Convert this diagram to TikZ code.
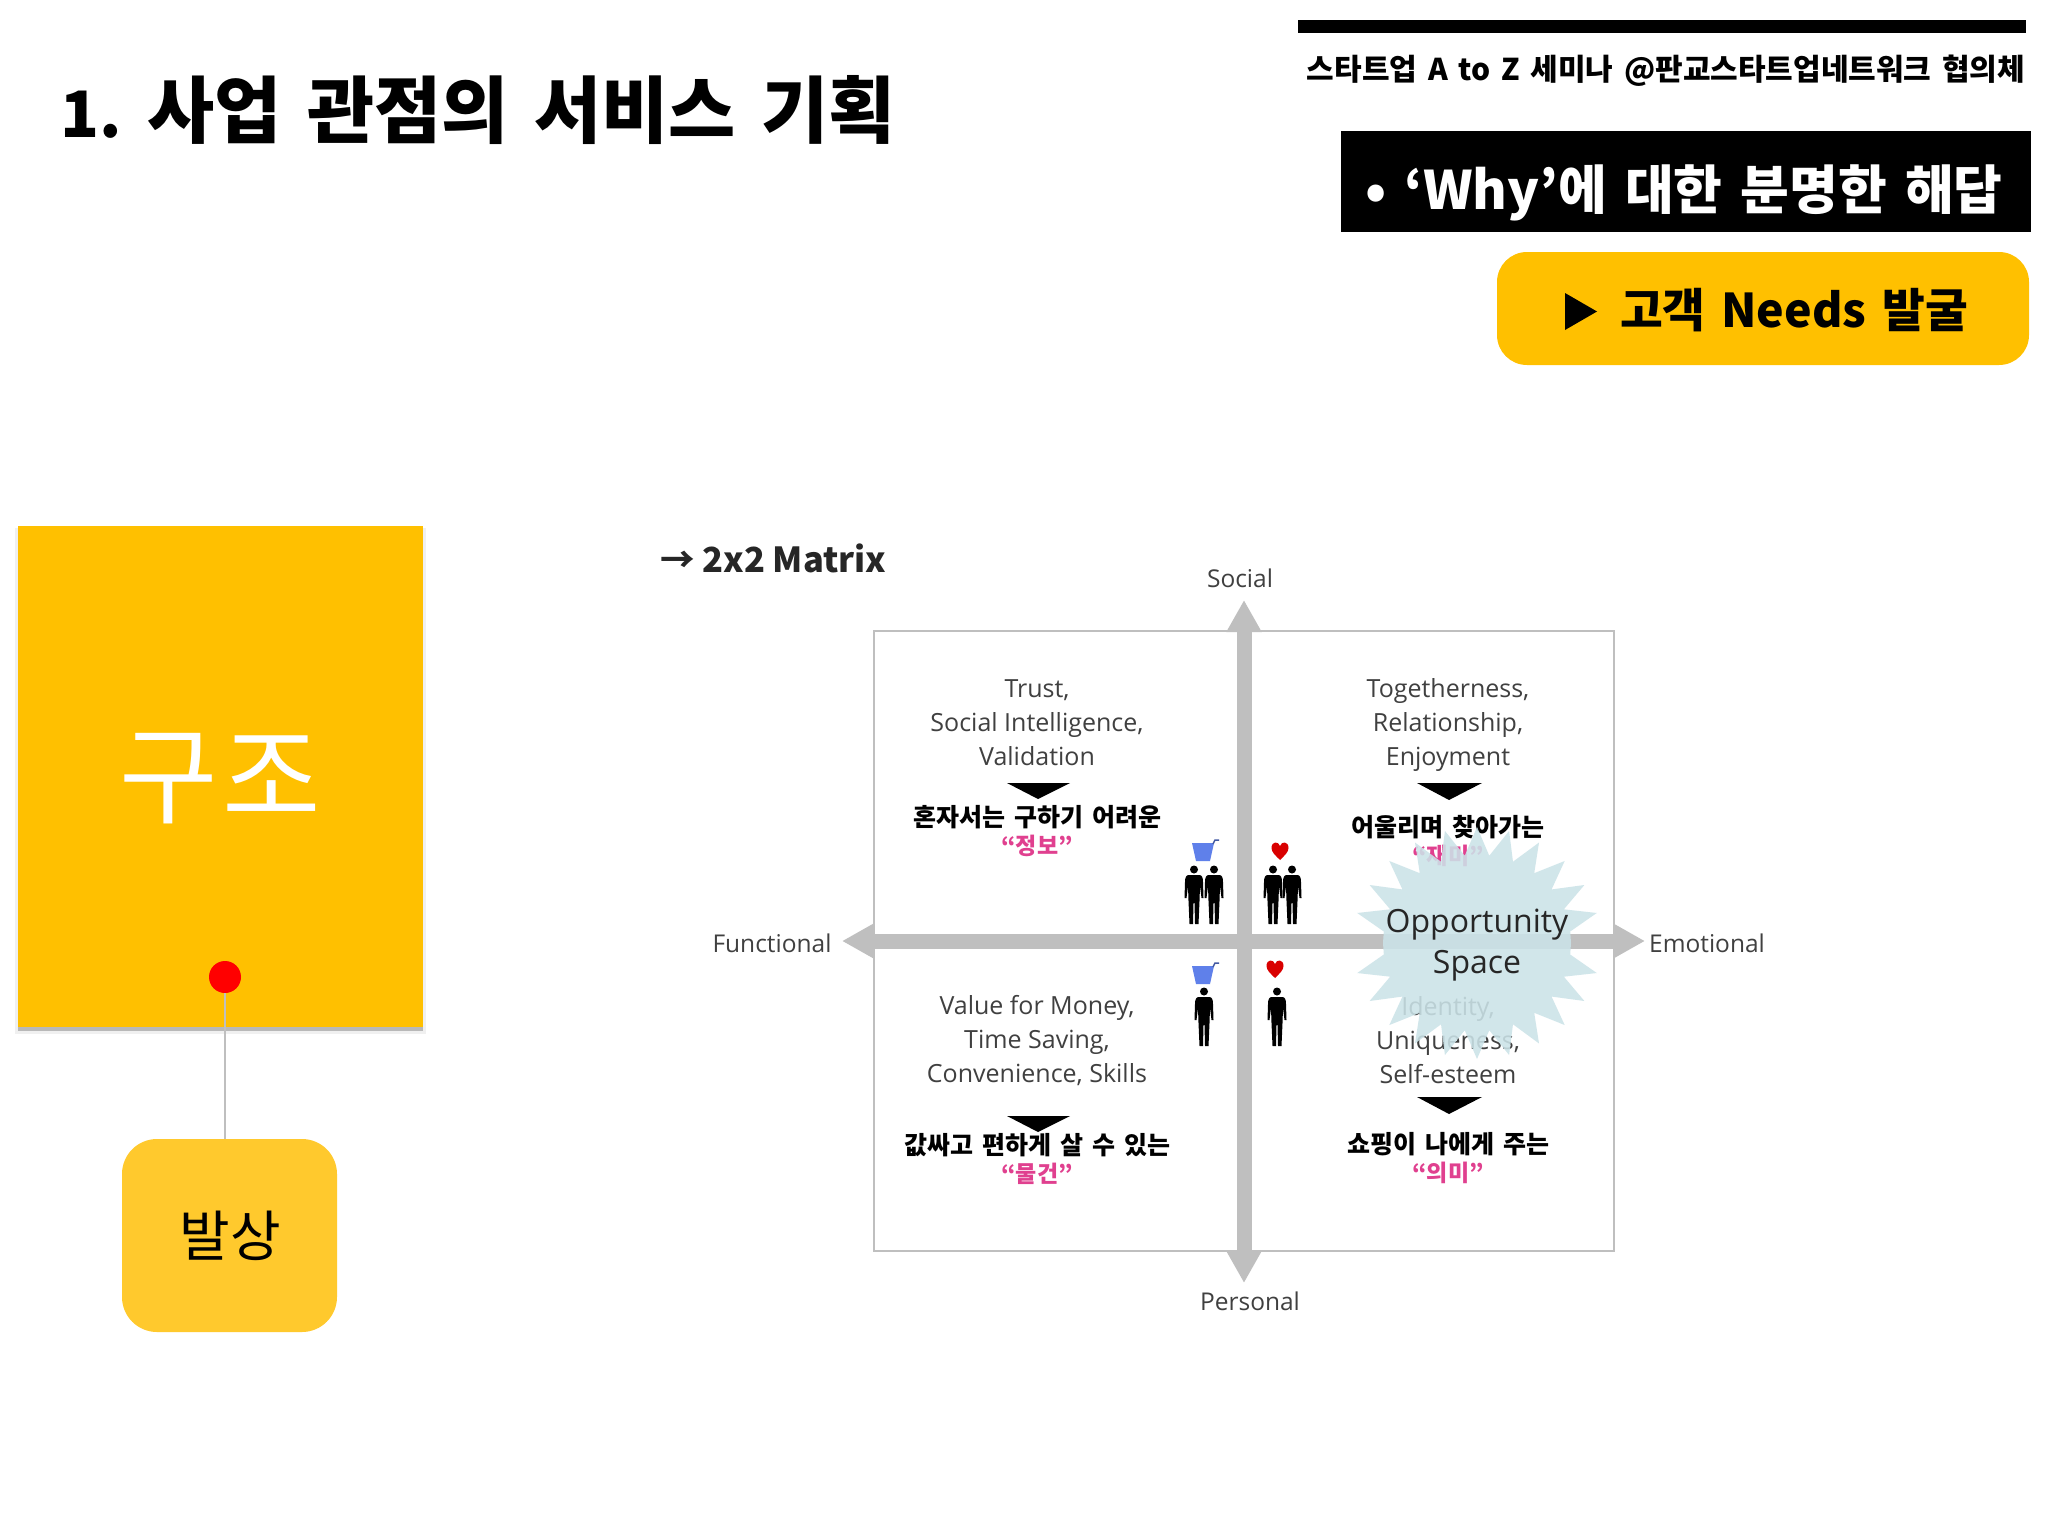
\documentclass[tikz,border=0pt]{standalone}
\usepackage{fontspec}
\setmainfont{Noto Sans CJK KR}
\newfontfamily\latinf{Open Sans}
\newcommand{\wgap}[1]{\spaceskip=#1em\relax}
\usetikzlibrary{arrows.meta,shapes.geometric}
\definecolor{amber}{HTML}{FFC000}
\definecolor{amberlt}{HTML}{FFC92D}
\definecolor{axisgray}{HTML}{BFBFBF}
\definecolor{inkgray}{HTML}{404040}
\definecolor{pinkish}{HTML}{E0408F}
\definecolor{burst}{HTML}{CBE3E8}
\definecolor{cartblue}{HTML}{5F80EA}
\tikzset{
  x=1pt,y=-1pt,
  every node/.style={inner sep=0pt,outer sep=0pt},
  eng/.style={font=\latinf\fontsize{25}{34}\selectfont,text=inkgray,align=center,anchor=center},
  axlabel/.style={font=\latinf\fontsize{24.5}{30}\selectfont,text=inkgray,anchor=center},
  kor/.style={font=\bfseries\fontsize{25}{30}\selectfont\wgap{0.36},text=black,anchor=center},
  pinktxt/.style={font=\bfseries\fontsize{23}{28}\selectfont,text=pinkish,anchor=center},
  axisline/.style={draw=axisgray,line width=15pt,{Triangle[length=32pt,width=33pt]}-{Triangle[length=32pt,width=33pt]}},
  pics/person/.style={code={
    \fill[black] (0,4.5) circle (4);
    \fill[black] (-5.5,10) -- (5.5,10) .. controls (8,10) and (9,13) .. (9,17) -- (9.5,33) -- (7.5,33) -- (6,21) -- (5.5,36)
      -- (4.5,59) -- (1,59) -- (0.5,38) -- (-0.5,38) -- (-1,59) -- (-4.5,59) -- (-5.5,36) -- (-6,21) -- (-7.5,33) -- (-9.5,33)
      -- (-9,17) .. controls (-9,13) and (-8,10) .. (-5.5,10) -- cycle;
  }},
  pics/cart/.style={code={
    \fill[cartblue] (0,3) -- (22,3) -- (18,21) -- (4,21) -- cycle;
    \draw[cartblue!70!black,line width=1.5pt] (21,4) -- (23,0) -- (27,0);
  }},
  pics/heart/.style={code={
    \fill[red!85!black] (0,9) .. controls (-5,4) and (-8.5,1) .. (-8.5,-3) .. controls (-8.5,-10) and (-1.5,-10) .. (0,-5)
      .. controls (1.5,-10) and (8.5,-10) .. (8.5,-3) .. controls (8.5,1) and (5,4) .. (0,9) -- cycle;
  }}
}
\begin{document}
\begin{tikzpicture}
\useasboundingbox (0,0) rectangle (2048,1536);
\fill[white] (0,0) rectangle (2048,1536);

% header
\node[anchor=center,font=\bfseries\fontsize{73}{78}\selectfont\wgap{0.35}] (title) at (478,110) {{\fontsize{64}{70}\selectfont 1.\hspace{-5pt}} 사업 관점의 서비스 기획};
\fill[black] (1298,20) rectangle (2026,33);
\node[anchor=center,font=\bfseries\fontsize{30}{32}\selectfont\wgap{0.36}] (sub) at (1666,71) {스타트업 A to Z 세미나 @판교스타트업네트워크 협의체};
\node[fill=black,minimum width=690pt,minimum height=101pt,anchor=center] (whybox) at (1686,181.5) {};
\node[anchor=center,text=white,font=\bfseries\fontsize{53}{58}\selectfont\wgap{0.34}] (why) at (1684,193) {• ‘Why’에 대한 분명한 해답};
\node[fill=amber,rounded corners=30pt,minimum width=532pt,minimum height=113pt,anchor=center] (needsbox) at (1763,308.5) {};
\fill[black] (1565,293) -- (1597,311.5) -- (1565,330) -- cycle;
\node[anchor=center,font=\bfseries\fontsize{46.5}{50}\selectfont\wgap{0.34}] (needs) at (1794,310) {고객 Needs 발굴};

% left column
\fill[black!6] (15,528) rectangle (426,1034);
\fill[black!28] (18,530) rectangle (423,1031);
\node[fill=amber,minimum width=405pt,minimum height=501pt,anchor=center] (bigbox) at (220.5,776.5) {};
\node[anchor=center,text=white,font=\addfontfeatures{LetterSpace=4}\fontsize{107}{110}\selectfont] (gujo) at (220,779) {구조};
\node[fill=amberlt,rounded corners=35pt,minimum width=215pt,minimum height=193pt,anchor=center] (idea) at (229.5,1235.5) {};
\node[anchor=center,font=\fontsize{55}{58}\selectfont] (balsang) at (230,1236) {발상};
\node[circle,fill=red,minimum size=32pt] (dot) at (225,977) {};
\draw[axisgray,line width=2pt] (dot) -- (dot |- idea.north);

% matrix
\node[anchor=west,font=\bfseries\fontsize{34.5}{38}\selectfont,text=black!85] (mhead) at (660,558) {→ 2x2 Matrix};
\draw[axisgray,line width=2.5pt] (874,631) rectangle (1614,1251);
\coordinate (atop) at (1244,600);
\coordinate (abot) at (1244,1283);
\coordinate (aleft) at (842,941);
\coordinate (aright) at (1645,941);
\draw[axisline] (atop) -- (abot);
\draw[axisline] (aleft) -- (aright);
\node[axlabel] (social) at (1240,578) {Social};
\node[axlabel] (personal) at (1250,1301) {Personal};
\node[axlabel] (functional) at (772,943) {Functional};
\node[axlabel] (emotional) at (1707,943) {Emotional};

% quadrant top left
\node[eng] (q1) at (1037,723) {Trust,\\Social Intelligence,\\Validation};
\fill[black] (1007,783) -- (1070,783) -- (1038,799) -- cycle;
\node[kor] (q1k) at (1037,817) {혼자서는 구하기 어려운};
\node[pinktxt] (q1p) at (1037,846) {“정보”};
% quadrant top right
\node[eng] (q2) at (1448,725) {Togetherness,\\Relationship,\\Enjoyment};
\fill[black] (1417,783) -- (1482,783) -- (1449,800) -- cycle;
\node[kor] (q2k) at (1448,827) {어울리며 찾아가는};
\node[pinktxt] (q2p) at (1448,856) {“재미”};
% quadrant bottom left
\node[eng] (q3) at (1037,1041) {Value for Money,\\Time Saving,\\Convenience, Skills};
\fill[black] (1007,1116) -- (1070,1116) -- (1038,1132) -- cycle;
\node[kor] (q3k) at (1037,1145) {값싸고 편하게 살 수 있는};
\node[pinktxt] (q3p) at (1037,1174) {“물건”};
% quadrant bottom right
\node[eng] (q4) at (1448,1040) {Identity,\\Uniqueness,\\Self-esteem};
\fill[black] (1417,1097) -- (1482,1097) -- (1449,1114) -- cycle;
\node[kor] (q4k) at (1448,1144) {쇼핑이 나에게 주는};
\node[pinktxt] (q4p) at (1448,1173) {“의미”};

% icons
\pic at (1192,840) {cart};
\pic at (1194,865) {person};
\pic at (1214,865) {person};
\pic at (1280,851) {heart};
\pic at (1273,865) {person};
\pic at (1292,865) {person};
\pic at (1192,963) {cart};
\pic at (1204,987) {person};
\pic at (1275,969) {heart};
\pic at (1277,987) {person};

% opportunity burst
\fill[burst,fill opacity=.88] plot[samples at={0,...,47}] ({1477+((mod(\x,2)==0 && mod(\x,24)!=0) ? 124 : 94)*cos(\x*7.5)},{943+((mod(\x,2)==0 && mod(\x,24)!=0) ? 116 : 88)*sin(\x*7.5)}) -- cycle;
\node[anchor=center,align=center,font=\latinf\fontsize{32}{41.5}\selectfont,text=black!85] (opp) at (1477,945) {Opportunity\\Space};
\end{tikzpicture}
\end{document}
